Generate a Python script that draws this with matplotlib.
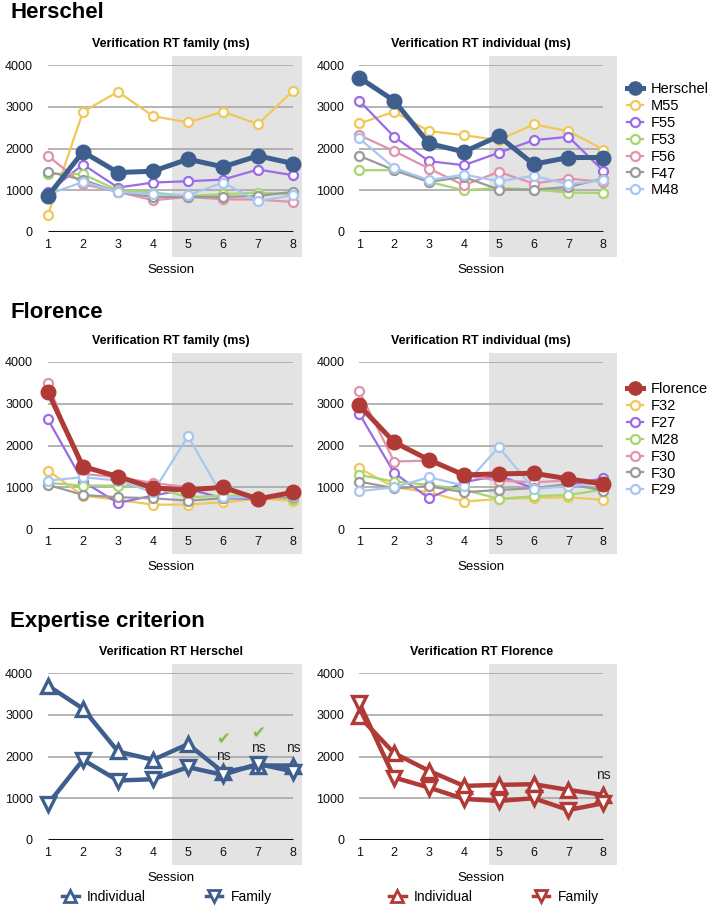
import matplotlib
matplotlib.use('Agg')
from matplotlib import pyplot as plt
from matplotlib.lines import Line2D

plt.rcParams['font.family'] = ['Liberation Sans', 'DejaVu Sans']

sessions = [1, 2, 3, 4, 5, 6, 7, 8]
ytick_vals = [0, 1000, 2000, 3000, 4000]

# Herschel and his comparison group
herschel_family = [864, 1920, 1424, 1456, 1744, 1560, 1824, 1640]
herschel_indiv = [3696, 3144, 2120, 1920, 2296, 1624, 1784, 1784]
h_names = ['M55', 'F55', 'F53', 'F56', 'F47', 'M48']
h_family = [
    [416, 2880, 3360, 2776, 2624, 2880, 2584, 3384],
    [950, 1616, 1064, 1184, 1216, 1256, 1496, 1360],
    [1400, 1384, 1000, 944, 864, 904, 944, 904],
    [1824, 1144, 960, 760, 840, 784, 776, 720],
    [1440, 1250, 960, 840, 840, 840, 864, 960],
    [900, 1200, 960, 900, 880, 1184, 744, 880],
]
h_indiv = [
    [2600, 2880, 2416, 2320, 2200, 2576, 2416, 1976],
    [3144, 2280, 1696, 1600, 1896, 2200, 2280, 1464],
    [1480, 1480, 1200, 1000, 1056, 1016, 944, 936],
    [2320, 1936, 1520, 1120, 1440, 1160, 1280, 1200],
    [1824, 1480, 1200, 1320, 1016, 1016, 1080, 1280],
    [2240, 1536, 1240, 1376, 1216, 1344, 1144, 1240],
]

# Florence and her comparison group
florence_family = [3280, 1496, 1256, 984, 936, 1000, 720, 880]
florence_indiv = [2960, 2080, 1656, 1296, 1320, 1336, 1200, 1080]
f_names = ['F32', 'F27', 'M28', 'F30', 'F30', 'F29']
f_family = [
    [1400, 800, 696, 584, 584, 640, 720, 680],
    [2624, 1136, 624, 800, 960, 736, 720, 816],
    [1104, 1040, 1040, 1000, 760, 800, 800, 720],
    [3504, 1320, 1240, 1104, 1000, 960, 720, 800],
    [1056, 816, 760, 736, 680, 736, 760, 760],
    [1160, 1240, 1160, 880, 2224, 760, 760, 800],
]
f_indiv = [
    [1456, 1000, 880, 656, 720, 744, 760, 696],
    [2760, 1344, 736, 1120, 1280, 976, 1056, 1216],
    [1296, 1136, 1056, 944, 720, 784, 816, 944],
    [3296, 1616, 1640, 1280, 1160, 1120, 1160, 1136],
    [1136, 976, 1024, 880, 936, 976, 1080, 920],
    [904, 1000, 1240, 1040, 1960, 960, 1024, 1104],
]

# significance notes on the expertise panels
h_ns_sessions = [6, 7, 8]
h_ns_y = [2020, 2210, 2210]
h_check_sessions = [6, 7]
h_check_y = [2400, 2550]
f_ns_sessions = [8]
f_ns_y = [1560]

BLUE = '#3e5f8e'
RED = '#b03a36'
OTHER_COLORS = ['#f0c85a', '#9b6be8', '#a6d66e', '#e093ab', '#9a9a9a', '#a8c6f2']
SHADE = '#e3e3e3'
GRID = '#a8a8a8'

W, H = 708, 907
fig = plt.figure(figsize=(W / 100, H / 100), dpi=100)
fig.patch.set_facecolor('white')

XLIM = (0.75, 8.45)
COLS = {'left': (39.25, 308.75, (4.55, 8.26)), 'right': (350.6, 619.0, (4.73, 8.39))}
ROWS = [(65, 232), (362, 529), (673, 840)]


def new_axes(col, row):
    x0, x1, shade = COLS[col]
    y0, y1 = ROWS[row]
    ax = fig.add_axes([x0 / W, 1 - y1 / H, (x1 - x0) / W, (y1 - y0) / H])
    ax.set_xlim(*XLIM)
    ax.set_ylim(0, 4000)
    for s in ax.spines.values():
        s.set_visible(False)
    ax.patch.set_alpha(0)
    ax.axvspan(shade[0], shade[1], ymin=-0.15, ymax=1.054, color=SHADE,
               lw=0, zorder=0, clip_on=False)
    ax.hlines(ytick_vals[1:], 1, 8, color=GRID, lw=1.2, zorder=1)
    ax.hlines(0, 1, 8, color='#111111', lw=2.2, zorder=1)
    ax.set_xticks(sessions)
    ax.set_yticks(ytick_vals)
    ax.tick_params(length=0, labelsize=9, colors='#111111')
    ax.tick_params(axis='y', pad=4.5)
    ax.tick_params(axis='x', pad=5)
    ax.text(4.5, -0.228, 'Session', transform=ax.get_xaxis_transform(),
            ha='center', va='center', fontsize=9.5)
    return ax


def set_title(ax, text):
    ax.text(4.5, 1.126, text, transform=ax.get_xaxis_transform(),
            ha='center', va='center', fontsize=9, fontweight='bold')


def draw_group(ax, main, color, others):
    for vals, c in zip(others, OTHER_COLORS):
        ax.plot(sessions, vals, color=c, lw=1.6, marker='o', ms=6.5,
                mfc='white', mec=c, mew=1.6, zorder=3, clip_on=False)
    ax.plot(sessions, main, color=color, lw=3.6, marker='o', ms=10.5,
            mfc=color, mec=color, zorder=4, clip_on=False)


def group_legend(ax, main_name, color, names, y_px):
    handles = [Line2D([], [], color=color, lw=3.6, marker='o', ms=9.5, mfc=color)]
    for c in OTHER_COLORS:
        handles.append(Line2D([], [], color=c, lw=1.6, marker='o', ms=6.5,
                              mfc='white', mec=c, mew=1.6))
    ax.legend(handles, [main_name] + names, loc='upper left',
              bbox_to_anchor=(627 / W, 1 - y_px / H), bbox_transform=fig.transFigure,
              frameon=False, fontsize=10.5, handlelength=1.1, handletextpad=0.5,
              labelspacing=0.2, borderpad=0, borderaxespad=0)


def draw_expertise(ax, indiv, family, color):
    ax.plot(sessions, indiv, color=color, lw=3.2, marker='^', ms=10,
            mfc='white', mec=color, mew=2.4, zorder=4, clip_on=False)
    ax.plot(sessions, family, color=color, lw=3.2, marker='v', ms=10,
            mfc='white', mec=color, mew=2.4, zorder=4, clip_on=False)


def expertise_legend(ax, color, x_px):
    handles = [Line2D([], [], color=color, lw=2.5, marker='^', ms=8, mfc='white', mew=2),
               Line2D([], [], color=color, lw=2.5, marker='v', ms=8, mfc='white', mew=2)]
    ax.legend(handles, ['Individual', 'Family'], loc='center left', ncol=2,
              bbox_to_anchor=(x_px / W, 1 - 897 / H), bbox_transform=fig.transFigure,
              frameon=False, fontsize=10, handlelength=1.2, handletextpad=0.6,
              columnspacing=4.3, borderpad=0, borderaxespad=0)


# section headings
for y_px, txt in [(13, 'Herschel'), (313, 'Florence'), (622, 'Expertise criterion')]:
    fig.text(10 / W, 1 - y_px / H, txt, fontsize=16, fontweight='bold', va='center')

# Herschel
ax = new_axes('left', 0)
set_title(ax, 'Verification RT family (ms)')
draw_group(ax, herschel_family, BLUE, h_family)
ax = new_axes('right', 0)
set_title(ax, 'Verification RT individual (ms)')
draw_group(ax, herschel_indiv, BLUE, h_indiv)
group_legend(ax, 'Herschel', BLUE, h_names, 82)

# Florence
ax = new_axes('left', 1)
set_title(ax, 'Verification RT family (ms)')
draw_group(ax, florence_family, RED, f_family)
ax = new_axes('right', 1)
set_title(ax, 'Verification RT individual (ms)')
draw_group(ax, florence_indiv, RED, f_indiv)
group_legend(ax, 'Florence', RED, f_names, 382)

# Expertise criterion
ax = new_axes('left', 2)
set_title(ax, 'Verification RT Herschel')
draw_expertise(ax, herschel_indiv, herschel_family, BLUE)
for x, y in zip(h_ns_sessions, h_ns_y):
    ax.text(x, y, 'ns', ha='center', va='center', fontsize=10, color='#222222', zorder=5)
for x, y in zip(h_check_sessions, h_check_y):
    ax.text(x, y, '\u2714', ha='center', va='center', fontsize=12, color='#7cc04a',
            family=['DejaVu Sans'], zorder=5)
expertise_legend(ax, BLUE, 62)

ax = new_axes('right', 2)
set_title(ax, 'Verification RT Florence')
draw_expertise(ax, florence_indiv, florence_family, RED)
for x, y in zip(f_ns_sessions, f_ns_y):
    ax.text(x, y, 'ns', ha='center', va='center', fontsize=10, color='#222222', zorder=5)
expertise_legend(ax, RED, 389)

fig.savefig('out.png', dpi=100)
